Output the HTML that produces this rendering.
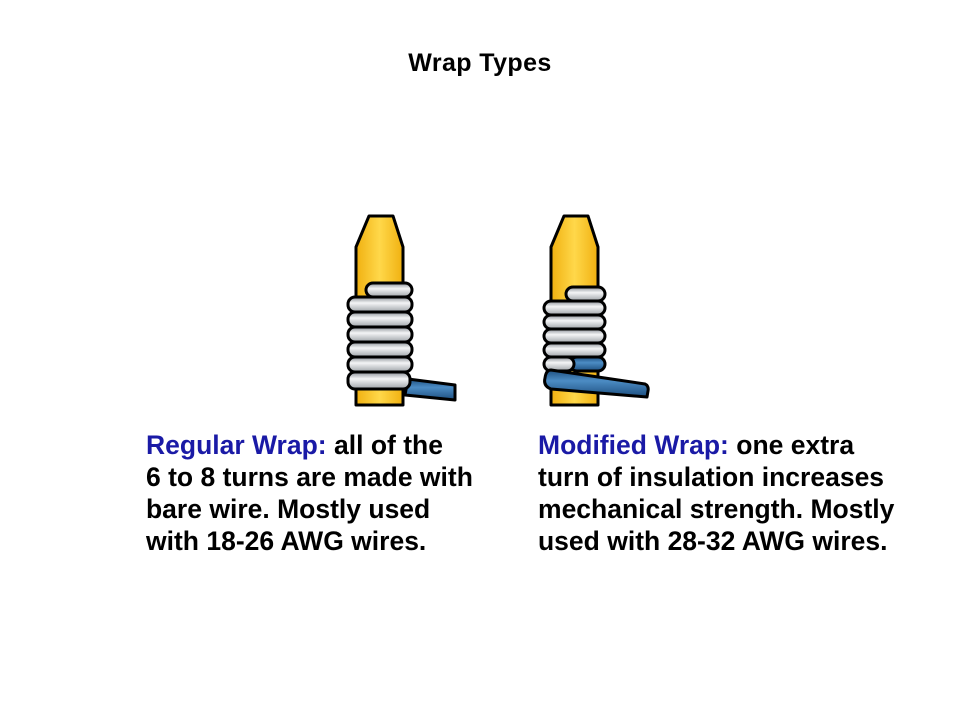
<!DOCTYPE html>
<html><head><meta charset="utf-8"><style>
html,body{margin:0;padding:0;background:#fff;}
body{width:960px;height:720px;position:relative;overflow:hidden;font-family:"Liberation Sans",Arial,sans-serif;font-weight:bold;}
.t{position:absolute;left:0;width:960px;text-align:center;top:49px;font-size:25px;letter-spacing:0.4px;color:#000;}
.p{position:absolute;top:429px;font-size:26.5px;line-height:32px;color:#000;white-space:nowrap;}
.b{color:#1a1aa6;}
</style></head><body>
<div class="t">Wrap Types</div>
<svg width="960" height="720" style="position:absolute;left:0;top:0">
<defs>
<linearGradient id="y" x1="0" x2="1"><stop offset="0" stop-color="#f0b010"/><stop offset="0.5" stop-color="#ffd84a"/><stop offset="1" stop-color="#f0b010"/></linearGradient>
<linearGradient id="g" x1="0" y1="0" x2="0" y2="1"><stop offset="0" stop-color="#8a8f96"/><stop offset="0.4" stop-color="#f4f5f6"/><stop offset="1" stop-color="#9ea3a8"/></linearGradient>
<linearGradient id="bl" x1="0" y1="0" x2="0" y2="1"><stop offset="0" stop-color="#1d4f80"/><stop offset="0.4" stop-color="#4c8cc4"/><stop offset="1" stop-color="#1d4f80"/></linearGradient>
</defs>
<g stroke="#000" stroke-width="3" stroke-linejoin="round">
<polygon points="356,405 356,247 369,216 393,216 403,247 403,405" fill="url(#y)"/>
<path d="M408,379 L455,385 L455,400 L405,395 Z" fill="url(#bl)"/>
<rect x="366" y="283" width="46" height="14" rx="7" fill="url(#g)"/>
<rect x="348" y="297" width="64" height="15" rx="7" fill="url(#g)"/>
<rect x="348" y="312" width="64" height="15" rx="7" fill="url(#g)"/>
<rect x="348" y="327" width="64" height="15" rx="7" fill="url(#g)"/>
<rect x="348" y="342" width="64" height="15" rx="7" fill="url(#g)"/>
<rect x="348" y="357" width="64" height="15" rx="7" fill="url(#g)"/>
<rect x="348" y="372" width="62" height="17" rx="7" fill="url(#g)"/>

<polygon points="551,405 551,247 564,216 588,216 598,247 598,405" fill="url(#y)"/>
<rect x="566" y="287" width="39" height="14" rx="7" fill="url(#g)"/>
<rect x="544" y="301" width="61" height="14" rx="7" fill="url(#g)"/>
<rect x="544" y="315" width="61" height="14" rx="7" fill="url(#g)"/>
<rect x="544" y="329" width="61" height="14" rx="7" fill="url(#g)"/>
<rect x="544" y="343" width="61" height="14" rx="7" fill="url(#g)"/>
<rect x="570" y="357" width="35" height="14" rx="7" fill="url(#bl)"/>
<rect x="544" y="357" width="30" height="14" rx="7" fill="url(#g)"/>
<path d="M551,370 L645,384 Q649,386 648,391 L647,397 L551,389 Q543,386 545,378 Q546,370 551,370 Z" fill="url(#bl)"/>
</g>
</svg>
<div class="p" style="left:146px"><span class="b">Regular Wrap:</span> all of the<br>6 to 8 turns are made with<br>bare wire. Mostly used<br>with 18-26 AWG wires.</div>
<div class="p" style="left:538px"><span class="b">Modified Wrap:</span> one extra<br>turn of insulation increases<br>mechanical strength. Mostly<br>used with 28-32 AWG wires.</div>
</body></html>
